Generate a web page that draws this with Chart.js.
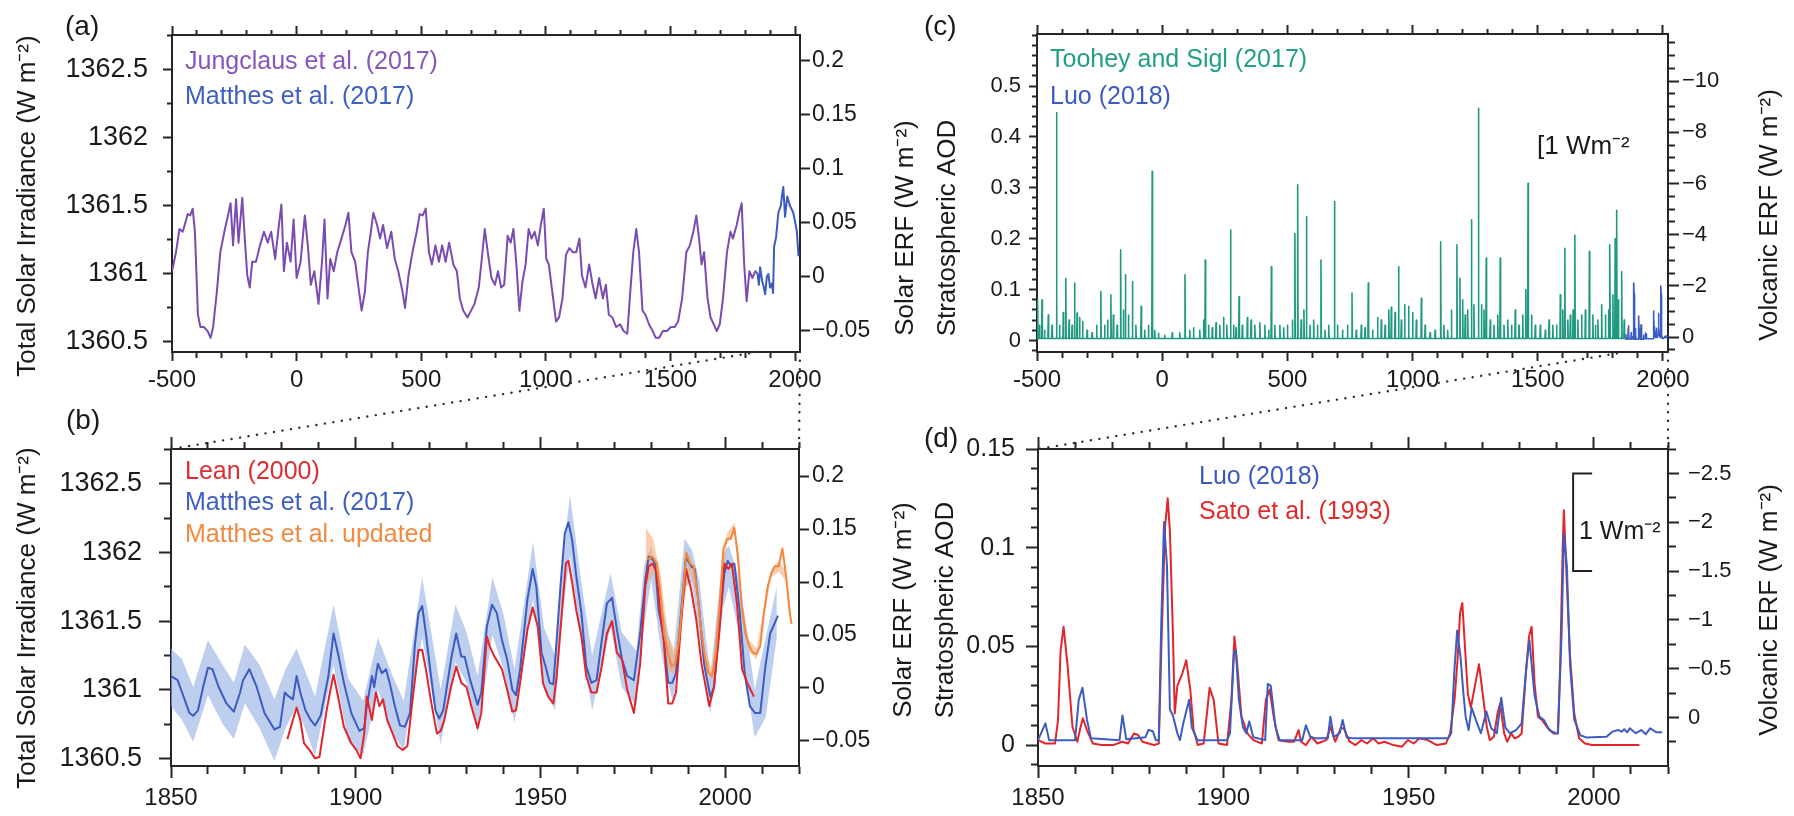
<!DOCTYPE html>
<html>
<head>
<meta charset="utf-8">
<script src="https://cdn.jsdelivr.net/npm/chart.js@4.4.1/dist/chart.umd.min.js"></script>
<style>
  html, body { margin: 0; padding: 0; background: #fff; }
  #fig { position: relative; width: 1794px; height: 816px; overflow: hidden; }
  #fig canvas { position: absolute; }
</style>
</head>
<body>
<div id="fig">
  <canvas id="pa" width="880" height="400" style="left:0;top:0"></canvas>
  <canvas id="pb" width="880" height="416" style="left:0;top:400px"></canvas>
  <canvas id="pc" width="914" height="400" style="left:880px;top:0"></canvas>
  <canvas id="pd" width="914" height="416" style="left:880px;top:400px"></canvas>
  <canvas id="links" width="1794" height="816" style="left:0;top:0;pointer-events:none"></canvas>
</div>
<script>
'use strict'
const FONT = "'Liberation Sans', Arial, Helvetica, sans-serif"
Chart.defaults.font.family = FONT

// ---- (a) TSI reconstruction, Jungclaus et al. (2017), -500..1850
const jungYears = [-500, -484, -470, -457, -449, -437, -427, -417, -408, -396,
  -386, -372, -357, -345, -335, -320, -306, -290, -273, -265,
  -255, -243, -233, -218, -208, -198, -188, -178, -163, -147,
  -131, -116, -102, -86, -71, -61, -51, -39, -24, -12,
  0, 16, 33, 45, 57, 71, 88, 102, 112, 124,
  135, 149, 163, 180, 196, 208, 220, 235, 247, 261,
  274, 286, 298, 308, 323, 335, 347, 363, 380, 394,
  408, 425, 435, 449, 465, 482, 494, 506, 518, 531,
  543, 557, 571, 584, 598, 612, 629, 643, 655, 669,
  686, 700, 714, 731, 743, 755, 767, 782, 796, 808,
  821, 833, 847, 859, 870, 882, 894, 906, 919, 931,
  943, 955, 968, 980, 992, 1002, 1012, 1026, 1041, 1053,
  1067, 1081, 1094, 1108, 1122, 1135, 1145, 1159, 1174, 1188,
  1200, 1214, 1229, 1241, 1253, 1267, 1282, 1298, 1312, 1327,
  1339, 1351, 1363, 1374, 1388, 1400, 1414, 1429, 1441, 1455,
  1470, 1486, 1502, 1517, 1531, 1547, 1564, 1578, 1592, 1604,
  1615, 1625, 1635, 1649, 1661, 1674, 1686, 1698, 1711, 1727,
  1741, 1751, 1766, 1776, 1786, 1796, 1806, 1817, 1829, 1841,
  1850]
const jungTsi = [1361.02, 1361.16, 1361.33, 1361.31, 1361.36, 1361.44, 1361.43, 1361.48, 1361.31, 1360.70,
  1360.61, 1360.61, 1360.58, 1360.53, 1360.61, 1360.87, 1361.16, 1361.31, 1361.45, 1361.52,
  1361.21, 1361.55, 1361.23, 1361.56, 1361.26, 1360.99, 1360.90, 1361.09, 1361.09, 1361.21,
  1361.31, 1361.23, 1361.31, 1361.11, 1361.36, 1361.51, 1361.02, 1361.23, 1361.09, 1361.40,
  1360.97, 1361.09, 1361.43, 1361.21, 1360.92, 1361.02, 1360.78, 1361.09, 1361.40, 1360.82,
  1361.11, 1361.02, 1361.16, 1361.26, 1361.36, 1361.45, 1361.16, 1361.09, 1360.92, 1360.73,
  1360.87, 1361.16, 1361.31, 1361.45, 1361.36, 1361.26, 1361.36, 1361.19, 1361.31, 1361.11,
  1361.02, 1360.87, 1360.75, 1360.99, 1361.16, 1361.31, 1361.44, 1361.43, 1361.48, 1361.16,
  1361.07, 1361.21, 1361.09, 1361.21, 1361.09, 1361.23, 1361.07, 1361.02, 1360.82, 1360.73,
  1360.68, 1360.73, 1360.78, 1360.90, 1361.11, 1361.33, 1361.16, 1360.97, 1360.92, 1361.02,
  1360.90, 1360.92, 1361.28, 1361.23, 1361.33, 1361.07, 1360.73, 1360.94, 1361.07, 1361.33,
  1361.26, 1361.31, 1361.21, 1361.36, 1361.48, 1361.11, 1361.07, 1360.87, 1360.65, 1360.68,
  1360.82, 1361.14, 1361.19, 1361.16, 1361.16, 1361.26, 1360.99, 1360.90, 1361.07, 1360.92,
  1360.82, 1360.97, 1360.82, 1360.92, 1360.70, 1360.68, 1360.61, 1360.63, 1360.58, 1360.56,
  1360.87, 1361.16, 1361.33, 1361.16, 1360.73, 1360.70, 1360.63, 1360.58, 1360.53, 1360.53,
  1360.58, 1360.58, 1360.61, 1360.61, 1360.65, 1360.82, 1361.16, 1361.21, 1361.31, 1361.43,
  1361.26, 1361.07, 1361.16, 1360.82, 1360.68, 1360.63, 1360.58, 1360.63, 1360.82, 1361.16,
  1361.31, 1361.26, 1361.36, 1361.45, 1361.52, 1361.07, 1360.80, 1361.02, 1360.97, 1361.02,
  1361.00]
// smoothed Matthes et al. (2017) as shown in (a)
const matSmoothYears = [1850, 1855, 1860, 1868, 1875, 1880, 1887, 1893, 1900, 1907, 1912, 1916,
  1924, 1933, 1943, 1948, 1953, 1960, 1969, 1980, 1993, 2007, 2014]
const matSmoothTsi = [1361.00, 1360.92, 1361.05, 1360.95, 1360.90, 1360.85, 1360.98, 1361.00, 1360.90, 1360.93, 1360.86, 1361.20,
  1361.27, 1361.45, 1361.50, 1361.58, 1361.64, 1361.42, 1361.57, 1361.50, 1361.45, 1361.32, 1361.13]

// ---- (b) annual TSI since 1850
const matYears = [1850, 1851.8, 1853, 1855, 1856, 1857.3, 1858.7, 1860, 1861.2, 1862.9,
  1865, 1867, 1868.7, 1869.5, 1871.2, 1873.2, 1875.3, 1878, 1879.5, 1880.8,
  1881.5, 1883, 1884, 1885, 1886.4, 1887.8, 1889, 1890.5, 1892.6, 1894,
  1895.4, 1896.8, 1898.8, 1901, 1902.3, 1903, 1904.4, 1905, 1906, 1907.1,
  1908.2, 1909.2, 1910.6, 1912, 1913.3, 1914.7, 1916, 1917, 1918, 1919,
  1920.3, 1921.6, 1922.6, 1923.7, 1925.8, 1927.2, 1928.6, 1929.5, 1931, 1932,
  1933, 1934, 1935.5, 1936.9, 1938.2, 1939.6, 1941, 1942.4, 1943.4, 1944.5,
  1946.5, 1947.9, 1948.9, 1950.3, 1951.4, 1952.5, 1953.5, 1954.2, 1955.5, 1956.6,
  1957.6, 1958.6, 1959.7, 1961.1, 1962.4, 1963.8, 1965.2, 1966.6, 1968, 1969.4,
  1970.7, 1972.1, 1973.5, 1975.3, 1977, 1978.4, 1979.3, 1980.4, 1981.1, 1982,
  1983.2, 1984.6, 1985.7, 1986.7, 1988, 1989.4, 1990.8, 1991.8, 1992.9, 1994.3,
  1996, 1997, 1998.4, 1999.8, 2000.7, 2001.6, 2002.5, 2003.9, 2005.3, 2006.7,
  2008.1, 2009.5, 2010.9, 2012.2, 2014.3]
const matTsi = [1361.10, 1361.07, 1360.98, 1360.83, 1360.81, 1360.85, 1361.02, 1361.16, 1361.15, 1361.02,
  1360.90, 1360.84, 1360.98, 1361.07, 1361.15, 1361.02, 1360.83, 1360.71, 1360.73, 1360.98,
  1360.96, 1360.93, 1361.10, 1360.98, 1360.85, 1360.78, 1360.74, 1360.81, 1361.10, 1361.41,
  1361.24, 1361.05, 1360.83, 1360.70, 1360.72, 1360.88, 1361.10, 1361.02, 1361.19, 1361.12,
  1361.15, 1361.05, 1360.88, 1360.74, 1360.73, 1360.83, 1361.32, 1361.56, 1361.61, 1361.41,
  1361.12, 1360.85, 1360.79, 1360.85, 1361.22, 1361.41, 1361.24, 1361.24, 1361.07, 1360.98,
  1360.89, 1360.98, 1361.46, 1361.62, 1361.56, 1361.36, 1361.22, 1361.00, 1360.96, 1361.15,
  1361.66, 1361.88, 1361.75, 1361.27, 1361.17, 1361.05, 1361.04, 1361.29, 1361.78, 1362.14,
  1362.22, 1362.09, 1361.83, 1361.56, 1361.17, 1361.05, 1361.07, 1361.36, 1361.63, 1361.67,
  1361.44, 1361.22, 1361.10, 1361.07, 1361.41, 1361.80, 1361.97, 1361.95, 1361.92, 1361.58,
  1361.41, 1361.05, 1361.05, 1361.12, 1361.54, 1361.97, 1361.90, 1361.88, 1361.61, 1361.19,
  1360.95, 1361.02, 1361.46, 1361.85, 1361.94, 1361.90, 1361.92, 1361.58, 1361.12, 1360.88,
  1360.83, 1360.83, 1361.17, 1361.41, 1361.54]
const matBandYears = [1850, 1853, 1856, 1860, 1864, 1867, 1870, 1874, 1878, 1881,
  1884, 1889, 1894, 1898, 1902, 1906, 1910, 1913, 1918, 1923,
  1927, 1930, 1933, 1937, 1940, 1943, 1948, 1951, 1954, 1956,
  1958, 1961, 1964, 1969, 1972, 1976, 1978, 1980, 1983, 1986,
  1989, 1991, 1993, 1996, 1999.5, 2001, 2004, 2008, 2011, 2014]
const matBandHi = [1361.30, 1361.22, 1361.02, 1361.36, 1361.18, 1361.05, 1361.33, 1361.18, 1360.93, 1361.15,
  1361.30, 1360.95, 1361.62, 1361.08, 1360.92, 1361.38, 1361.10, 1360.92, 1361.82, 1361.00,
  1361.62, 1361.42, 1361.10, 1361.82, 1361.55, 1361.15, 1362.08, 1361.45, 1361.25, 1361.95,
  1362.42, 1361.80, 1361.25, 1361.85, 1361.42, 1361.28, 1361.90, 1362.05, 1361.60, 1361.25,
  1362.10, 1362.02, 1361.80, 1361.10, 1362.00, 1362.05, 1361.80, 1361.00, 1361.38, 1361.75]
const matBandLo = [1360.88, 1360.78, 1360.62, 1360.96, 1360.75, 1360.64, 1360.90, 1360.72, 1360.48, 1360.72,
  1360.88, 1360.52, 1361.18, 1360.62, 1360.52, 1361.00, 1360.68, 1360.56, 1361.38, 1360.60,
  1361.20, 1361.05, 1360.68, 1361.40, 1361.15, 1360.76, 1361.66, 1361.00, 1360.85, 1361.55,
  1361.98, 1361.35, 1360.85, 1361.46, 1361.02, 1360.88, 1361.45, 1361.80, 1361.22, 1360.90,
  1361.75, 1361.78, 1361.40, 1360.82, 1361.60, 1361.75, 1361.38, 1360.65, 1360.80, 1361.38]
const leanYears = [1881.5, 1883, 1884, 1885, 1886, 1887.5, 1889, 1890.2, 1892, 1893.3,
  1894, 1895, 1896.8, 1898.8, 1900.2, 1901.3, 1902.3, 1903, 1904.4, 1905.5,
  1906.4, 1907.4, 1908.5, 1910, 1911.3, 1912.7, 1914, 1915.4, 1917, 1918,
  1919, 1920.3, 1922, 1923, 1924, 1925.8, 1927.2, 1928.6, 1930, 1931.3,
  1933, 1934, 1935.5, 1936.2, 1937.6, 1939.6, 1941, 1942.4, 1943.4, 1944.5,
  1946.5, 1947.9, 1949.3, 1950.7, 1952.1, 1953.5, 1954.4, 1955.5, 1956.9, 1957.6,
  1958.6, 1959.7, 1961.1, 1962.4, 1963.8, 1965.2, 1966.6, 1968, 1969.4, 1970.7,
  1972.1, 1973.5, 1975.3, 1977, 1978.4, 1979.3, 1980.4, 1981.5, 1982.4, 1983.4,
  1984.6, 1985.7, 1986.7, 1988, 1989.4, 1990.8, 1992.2, 1993.6, 1995.7, 1997,
  1998.4, 1999.8, 2000.9, 2001.8, 2003.2, 2004.6, 2006, 2007.8]
const leanTsi = [1360.64, 1360.78, 1360.87, 1360.78, 1360.61, 1360.56, 1360.50, 1360.51, 1360.83, 1361.02,
  1361.11, 1360.98, 1360.73, 1360.61, 1360.56, 1360.50, 1360.68, 1360.95, 1360.78, 1360.98,
  1360.88, 1360.93, 1360.78, 1360.68, 1360.59, 1360.56, 1360.59, 1360.93, 1361.29, 1361.29,
  1361.15, 1360.93, 1360.68, 1360.70, 1360.78, 1361.02, 1361.17, 1361.05, 1361.02, 1360.88,
  1360.72, 1360.83, 1361.39, 1361.32, 1361.24, 1361.15, 1361.00, 1360.84, 1360.85, 1361.05,
  1361.44, 1361.60, 1361.46, 1361.05, 1360.95, 1360.90, 1361.10, 1361.46, 1361.92, 1361.94,
  1361.78, 1361.58, 1361.39, 1361.10, 1360.98, 1360.98, 1361.17, 1361.41, 1361.50, 1361.27,
  1361.22, 1361.00, 1360.83, 1361.19, 1361.75, 1361.90, 1361.92, 1361.85, 1361.56, 1361.36,
  1360.90, 1360.90, 1360.98, 1361.46, 1361.88, 1361.73, 1361.51, 1361.19, 1360.88, 1361.02,
  1361.41, 1361.92, 1361.88, 1361.92, 1361.63, 1361.15, 1361.05, 1360.95]
const updYears = [1978.8, 1980.4, 1981.5, 1982.6, 1983.5, 1984.5, 1985.5, 1986.5, 1987.5, 1988.5,
  1989.5, 1990.5, 1991.5, 1992.5, 1993.5, 1994.5, 1995.5, 1996.5, 1997.5, 1998.5,
  1999.5, 2000.5, 2001.5, 2002.5, 2003.5, 2004.5, 2005.5, 2006.5, 2007.5, 2008.5,
  2009.5, 2010.5, 2011.5, 2012.5, 2013.5, 2014.5, 2015.5, 2016.5, 2017.5, 2018]
const updTsi = [1361.95, 1361.97, 1361.92, 1361.68, 1361.41, 1361.27, 1361.17, 1361.19, 1361.36, 1361.66,
  1362.00, 1361.92, 1361.90, 1361.71, 1361.44, 1361.24, 1361.12, 1361.10, 1361.27, 1361.61,
  1362.02, 1362.10, 1362.10, 1362.18, 1361.97, 1361.61, 1361.41, 1361.32, 1361.27, 1361.26,
  1361.32, 1361.56, 1361.75, 1361.85, 1361.90, 1361.90, 1362.03, 1361.83, 1361.56, 1361.48]
const updBandYears = [1978.5, 1980.5, 1982.5, 1984.5, 1986.5, 1988.5, 1990.5, 1992.5, 1994.5, 1996.5,
  1998.5, 2000.5, 2002.5, 2004.5, 2006.5, 2008.5, 2010.5, 2012.5, 2014.5, 2016.5, 2018]
const updBandHi = [1362.18, 1362.10, 1361.85, 1361.40, 1361.28, 1361.72, 1361.98, 1361.76, 1361.29, 1361.15,
  1361.66, 1362.14, 1362.22, 1361.65, 1361.36, 1361.30, 1361.60, 1361.88, 1361.94, 1361.87, 1361.51]
const updBandLo = [1361.75, 1361.85, 1361.55, 1361.15, 1361.10, 1361.60, 1361.86, 1361.66, 1361.19, 1361.05,
  1361.56, 1362.06, 1362.14, 1361.57, 1361.28, 1361.22, 1361.52, 1361.82, 1361.86, 1361.79, 1361.45]

// ---- (c) stratospheric AOD peaks, Toohey and Sigl (2017): [year, AOD]
const tooheyBackground = 0.004
const tooheyEruptions = [[-497, 0.08], [-490, 0.03], [-480, 0.08], [-470, 0.02], [-455, 0.05], [-440, 0.03],
  [-422, 0.448], [-410, 0.03], [-395, 0.055], [-385, 0.122], [-372, 0.04], [-360, 0.03], [-350, 0.113],
  [-340, 0.054], [-330, 0.045], [-318, 0.037], [-300, 0.02], [-280, 0.015], [-262, 0.03], [-245, 0.096],
  [-230, 0.03], [-218, 0.04], [-205, 0.09], [-195, 0.05], [-180, 0.03], [-166, 0.178], [-155, 0.06],
  [-147, 0.129], [-135, 0.05], [-119, 0.116], [-105, 0.03], [-84, 0.067], [-70, 0.02], [-55, 0.03],
  [-40, 0.332], [-30, 0.02], [-15, 0.014], [10, 0.01], [40, 0.015], [70, 0.015], [91, 0.129], [110, 0.02],
  [125, 0.025], [150, 0.02], [165, 0.04], [172, 0.158], [185, 0.03], [200, 0.025], [215, 0.035], [230, 0.03],
  [245, 0.045], [258, 0.03], [273, 0.217], [285, 0.03], [295, 0.025], [307, 0.086], [320, 0.03], [340, 0.045],
  [355, 0.04], [370, 0.03], [390, 0.035], [410, 0.03], [425, 0.02], [436, 0.145], [450, 0.03], [470, 0.03],
  [485, 0.025], [500, 0.03], [520, 0.04], [530, 0.21], [541, 0.306], [555, 0.04], [566, 0.06], [576, 0.243],
  [590, 0.03], [605, 0.04], [620, 0.03], [634, 0.158], [650, 0.02], [665, 0.03], [688, 0.273], [700, 0.03],
  [720, 0.02], [740, 0.03], [758, 0.093], [775, 0.02], [795, 0.03], [810, 0.025], [823, 0.113], [840, 0.02],
  [860, 0.045], [875, 0.04], [890, 0.03], [905, 0.06], [915, 0.065], [930, 0.055], [944, 0.145], [955, 0.04],
  [968, 0.07], [984, 0.067], [1000, 0.055], [1015, 0.04], [1035, 0.083], [1050, 0.03], [1070, 0.015],
  [1090, 0.02], [1112, 0.194], [1125, 0.03], [1140, 0.02], [1155, 0.06], [1177, 0.188], [1189, 0.122],
  [1200, 0.08], [1210, 0.05], [1220, 0.06], [1235, 0.237], [1245, 0.07], [1263, 0.456], [1275, 0.07],
  [1285, 0.06], [1294, 0.162], [1310, 0.04], [1325, 0.03], [1340, 0.05], [1350, 0.162], [1365, 0.03],
  [1380, 0.04], [1395, 0.03], [1410, 0.06], [1425, 0.03], [1440, 0.05], [1452, 0.10], [1461, 0.309],
  [1475, 0.05], [1490, 0.03], [1510, 0.03], [1530, 0.02], [1545, 0.04], [1560, 0.03], [1575, 0.03],
  [1590, 0.09], [1600, 0.06], [1608, 0.181], [1620, 0.04], [1630, 0.05], [1641, 0.06], [1648, 0.207],
  [1660, 0.04], [1675, 0.05], [1690, 0.06], [1706, 0.175], [1720, 0.05], [1730, 0.03], [1740, 0.04],
  [1755, 0.07], [1770, 0.05], [1783, 0.06], [1788, 0.188], [1800, 0.09], [1809, 0.20], [1815, 0.256],
  [1822, 0.08], [1835, 0.135], [1845, 0.04]]

// ---- (d) stratospheric AOD since 1850
const luoYears = [1850, 1852, 1853, 1860, 1861, 1862, 1863.2, 1864.3, 1872, 1872.8,
  1873.8, 1879, 1879.8, 1881, 1881.8, 1882.6, 1883.2, 1884, 1884.8, 1885.6,
  1886.4, 1887.6, 1888.3, 1889.2, 1890.8, 1891.5, 1893, 1901, 1901.8, 1902.9,
  1903.4, 1904.2, 1905.3, 1906.2, 1907, 1908.1, 1911.3, 1912, 1912.8, 1914.1,
  1915.2, 1921.3, 1922.3, 1923.5, 1925, 1928.2, 1928.9, 1929.8, 1931.4, 1932.2,
  1933.3, 1934.9, 1960.7, 1961.5, 1962.3, 1963.1, 1964, 1964.8, 1965.4, 1966.2,
  1967, 1968.1, 1969.5, 1971, 1972.3, 1973.8, 1975, 1976.1, 1977.3, 1979,
  1980.5, 1981.8, 1982.6, 1984, 1985.3, 1986.5, 1988, 1989.7, 1990.3, 1991.3,
  1991.9, 1992.7, 1993.6, 1994.7, 1996.3, 1997.9, 2003.4, 2005, 2006.6, 2007.5,
  2008.2, 2009, 2009.7, 2011.3, 2012.8, 2014, 2015.2, 2016.8, 2018.4]
const luoAod = [0.0025, 0.011, 0.0025, 0.0025, 0.023, 0.029, 0.013, 0.0034, 0.0025, 0.015,
  0.003, 0.004, 0.0076, 0.007, 0.0025, 0.0025, 0.057, 0.113, 0.091, 0.018,
  0.015, 0.006, 0.0025, 0.011, 0.023, 0.009, 0.0025, 0.0025, 0.006, 0.047,
  0.048, 0.023, 0.009, 0.006, 0.012, 0.004, 0.0025, 0.031, 0.030, 0.009,
  0.0025, 0.0025, 0.010, 0.004, 0.0034, 0.0034, 0.0144, 0.004, 0.006, 0.0127,
  0.004, 0.0034, 0.0034, 0.006, 0.036, 0.058, 0.045, 0.026, 0.0144, 0.0076,
  0.019, 0.013, 0.006, 0.017, 0.0085, 0.006, 0.024, 0.009, 0.006, 0.0076,
  0.011, 0.040, 0.053, 0.025, 0.0144, 0.0127, 0.0076, 0.006, 0.006, 0.057,
  0.107, 0.091, 0.040, 0.013, 0.005, 0.0039, 0.0042, 0.0068, 0.0076, 0.0068,
  0.008, 0.0065, 0.0085, 0.006, 0.0076, 0.0055, 0.0085, 0.0065, 0.0065]
const satoYears = [1850, 1852, 1854.6, 1855.4, 1856.1, 1856.9, 1858, 1859.3, 1860.6, 1861.4,
  1862.1, 1863.2, 1864.8, 1867.2, 1870.3, 1872.7, 1874.3, 1875.9, 1877, 1878.2,
  1879.8, 1881.3, 1882.6, 1883.4, 1884.3, 1885, 1885.6, 1886.4, 1886.9, 1887.6,
  1888.9, 1890, 1891.1, 1892, 1893.1, 1894.7, 1895.5, 1896.3, 1897.4, 1898.7,
  1901, 1902.2, 1903, 1903.8, 1904.9, 1906.5, 1908.1, 1910.4, 1911.5, 1912.5,
  1913.6, 1914.9, 1917.6, 1919.1, 1920.3, 1921, 1922.3, 1923.8, 1925.4, 1927.8,
  1928.9, 1930.2, 1931.7, 1932.5, 1934.1, 1935.7, 1937.2, 1938.8, 1940.4, 1941.9,
  1943.5, 1945.9, 1948.2, 1949.8, 1951.4, 1952.9, 1955.2, 1957.6, 1960.1, 1961.2,
  1962.4, 1963.2, 1963.9, 1964.5, 1965.3, 1966, 1966.8, 1967.9, 1969, 1970,
  1971.1, 1971.9, 1973, 1974, 1974.7, 1975.8, 1976.6, 1977.7, 1978.6, 1979.6,
  1980.5, 1981.8, 1982.5, 1983.2, 1984, 1984.9, 1986, 1987.6, 1989.1, 1990.3,
  1990.9, 1991.6, 1991.9, 1992.5, 1993.5, 1994.7, 1996, 1997.6, 1999.5, 2012.3]
const satoAod = [0.0025, 0.0008, 0.0008, 0.0127, 0.048, 0.060, 0.040, 0.0093, 0.0017, 0.0085,
  0.0136, 0.0076, 0.0008, 0, 0, 0.0017, 0.0008, 0.0059, 0.0051, 0.0017,
  0.0008, 0, 0.0008, 0.057, 0.111, 0.125, 0.108, 0.057, 0.016, 0.030,
  0.036, 0.043, 0.028, 0.0076, 0, 0.0008, 0.0144, 0.029, 0.023, 0.0008,
  0, 0.023, 0.055, 0.040, 0.0144, 0.0059, 0.0025, 0.0008, 0.023, 0.028,
  0.0144, 0.0025, 0.0017, 0.0017, 0.0076, 0.0017, 0, 0.0042, 0.0008, 0.0025,
  0.0093, 0.0017, 0.0085, 0.0085, 0.0017, 0, 0.0025, 0.0008, 0.0034, 0.0008,
  0.0017, 0, -0.0008, 0.0025, 0.0008, 0.0034, 0.0025, 0, 0.0008, 0.0059,
  0.023, 0.043, 0.067, 0.072, 0.047, 0.026, 0.019, 0.030, 0.041, 0.026,
  0.0093, 0.0025, 0.0042, 0.016, 0.021, 0.0059, 0.0017, 0.0059, 0.0034, 0.0042,
  0.0059, 0.040, 0.055, 0.060, 0.031, 0.0144, 0.0127, 0.0085, 0.0059, 0.0059,
  0.040, 0.101, 0.119, 0.091, 0.047, 0.016, 0.0034, 0.0008, 0, 0]

// ---- tick labels
const longYearTicks = [-500, 0, 500, 1000, 1500, 2000]
const shortYearTicks = [1850, 1900, 1950, 2000]
const tsiTicks = [1360.5, 1361, 1361.5, 1362, 1362.5]
const tsiErfTicks = [-0.05, 0, 0.05, 0.1, 0.15, 0.2]
const aodLongTicks = [0, 0.1, 0.2, 0.3, 0.4, 0.5]
const volcLongTicks = [0, -2, -4, -6, -8, -10]
const aodShortTicks = [0, 0.05, 0.1, 0.15]
const volcShortTicks = [0, -0.5, -1, -1.5, -2, -2.5]

const C = {
  purple: '#7a4bb0', blue: '#3b5cc0', red: '#e3242b', orange: '#f5873a', teal: '#1f9a80',
  blueBand: 'rgba(150,176,228,0.62)', orangeBand: 'rgba(246,166,112,0.55)', ink: '#1a1a1a'
}

const pts = (xs, ys) => xs.map((x, i) => ({x, y: ys[i]}))

function fmtNum(v, minus) {
  if (Math.abs(v) < 1e-9) return '0'
  const s = String(+Math.abs(v).toFixed(4))
  return v < 0 ? minus + s : s
}

// one axis: labelled majors plus shorter unlabelled minors
function axis(o) {
  const horiz = o.pos === 'top' || o.pos === 'bottom'
  const isMajor = v => o.major.some(m => Math.abs(m - v) < 1e-7)
  const vals = o.major.filter(m => m >= o.min - 1e-9 && m <= o.max + 1e-9)
  if (o.minor) {
    for (let k = Math.ceil(o.min / o.minor - 1e-6); k * o.minor <= o.max + 1e-9; k++) {
      const v = +(k * o.minor).toFixed(6)
      if (!vals.some(w => Math.abs(w - v) < 1e-7)) vals.push(v)
    }
  }
  vals.sort((p, q) => p - q)
  const tm = o.tm || o.tl
  const minorDash = (o.pos === 'top' || o.pos === 'left') ? [0, o.tl - tm, 1000] : [tm, 1000]
  return {
    type: 'linear', position: o.pos, min: o.min, max: o.max, reverse: !!o.reverse, bounds: 'data',
    afterBuildTicks: s => { s.ticks = vals.map(v => ({value: v})) },
    afterFit: s => { if (horiz) s.height = o.size; else s.width = o.size },
    ticks: {
      display: !!o.font, autoSkip: false, maxRotation: 0, minRotation: 0, padding: o.pad || 0,
      color: C.ink, font: {family: FONT, size: o.font || 12},
      callback: v => isMajor(v) ? fmtNum(v, o.minus || '-') : ''
    },
    grid: {
      display: true, drawOnChartArea: false, drawTicks: true, tickLength: o.tl, tickWidth: 2, tickColor: '#262626',
      tickBorderDash: c => (c.tick && isMajor(c.tick.value)) ? [] : minorDash
    },
    border: {display: true, color: '#262626', width: 2},
    title: {display: false}
  }
}

function notes(items, extra) {
  return {
    id: 'notes',
    afterDraw(chart) {
      const ctx = chart.ctx
      items.forEach(n => {
        ctx.save()
        ctx.font = `${n.s || 25}px ${FONT}`
        ctx.fillStyle = n.c || C.ink
        ctx.textBaseline = 'middle'
        ctx.textAlign = n.a || 'left'
        ctx.translate(n.x, n.y)
        if (n.r) ctx.rotate(-Math.PI / 2)
        ctx.fillText(n.t, 0, 0)
        ctx.restore()
      })
      if (extra) { ctx.save(); extra(chart, ctx); ctx.restore() }
    }
  }
}

function line(data, color, width, order) {
  return {data, borderColor: color, backgroundColor: color, borderWidth: width, pointRadius: 0, fill: false, order}
}
function band(hi, lo, color, order) {
  return [
    {data: hi, borderColor: 'rgba(0,0,0,0)', borderWidth: 0, pointRadius: 0, fill: '+1', backgroundColor: color, order},
    {data: lo, borderColor: 'rgba(0,0,0,0)', borderWidth: 0, pointRadius: 0, fill: false, order: order + 1}
  ]
}

function panel(id, datasets, scales, plugin) {
  return new Chart(document.getElementById(id), {
    type: 'line',
    data: {datasets},
    options: {
      responsive: false, animation: false, events: [],
      layout: {padding: 0},
      elements: {line: {tension: 0, borderJoinStyle: 'round'}, point: {radius: 0}},
      plugins: {legend: {display: false}, tooltip: {enabled: false}},
      scales
    },
    plugins: [plugin]
  })
}

const WM2 = 'W m\u207B\u00B2'

// (a)
const chartA = panel('pa', [
  line(pts(jungYears, jungTsi), C.purple, 2, 1),
  line(pts(matSmoothYears, matSmoothTsi), C.blue, 2, 0)
], {
  x: axis({pos: 'bottom', min: -500, max: 2020, major: longYearTicks, minor: 100, tl: 9, tm: 5, size: 48, font: 24, pad: 5}),
  x2: axis({pos: 'top', min: -500, max: 2020, major: longYearTicks, minor: 100, tl: 9, tm: 5, size: 35}),
  y: axis({pos: 'left', min: 1360.426, max: 1362.757, major: tsiTicks, minor: 0.25, tl: 9, tm: 5, size: 172, font: 27, pad: 15}),
  y2: axis({pos: 'right', min: -0.0699, max: 0.2236, major: tsiErfTicks, tl: 10, size: 80, font: 23, pad: 2, minus: '\u2212'})
}, notes([
  {t: '(a)', x: 65, y: 27, s: 28},
  {t: 'Total Solar Irradiance (' + WM2 + ')', x: 28, y: 206, s: 26, r: 1, a: 'center'},
  {t: 'Jungclaus et al. (2017)', x: 185, y: 62, c: '#8655bd'},
  {t: 'Matthes et al. (2017)', x: 185, y: 97, c: '#3d5fc2'}
]))

// (b)
const chartB = panel('pb', [
  line(pts(updYears, updTsi), C.orange, 2, 0),
  line(pts(leanYears, leanTsi), C.red, 2, 1),
  line(pts(matYears, matTsi), C.blue, 2, 2),
  ...band(pts(updBandYears, updBandHi), pts(updBandYears, updBandLo), C.orangeBand, 4),
  ...band(pts(matBandYears, matBandHi), pts(matBandYears, matBandLo), C.blueBand, 7)
], {
  x: axis({pos: 'bottom', min: 1850, max: 2020, major: shortYearTicks, minor: 10, tl: 12, tm: 7, size: 50, font: 24, pad: 6}),
  x2: axis({pos: 'top', min: 1850, max: 2020, major: shortYearTicks, minor: 10, tl: 12, tm: 7, size: 49}),
  y: axis({pos: 'left', min: 1360.444, max: 1362.755, major: tsiTicks, minor: 0.25, tl: 12, tm: 7, size: 171, font: 27, pad: 17}),
  y2: axis({pos: 'right', min: -0.0736, max: 0.2255, major: tsiErfTicks, tl: 10, size: 81, font: 23, pad: 3, minus: '\u2212'})
}, notes([
  {t: '(b)', x: 66, y: 21, s: 28},
  {t: 'Total Solar Irradiance (' + WM2 + ')', x: 28, y: 218, s: 26, r: 1, a: 'center'},
  {t: 'Lean (2000)', x: 185, y: 72, c: '#e02c30'},
  {t: 'Matthes et al. (2017)', x: 185, y: 103, c: '#3d5fc2'},
  {t: 'Matthes et al. updated', x: 185, y: 135, c: '#f28a42'}
]))

// (c)
const tooheyPts = [{x: -500, y: tooheyBackground}]
tooheyEruptions.forEach(([yr, p]) => {
  tooheyPts.push({x: yr - 1.5, y: tooheyBackground}, {x: yr, y: p}, {x: yr + 1.5, y: tooheyBackground})
})
tooheyPts.push({x: 1850, y: tooheyBackground})

const chartC = panel('pc', [
  line(tooheyPts, C.teal, 1.6, 1),
  line(pts(luoYears, luoAod), C.blue, 1.6, 0)
], {
  x: axis({pos: 'bottom', min: -500, max: 2020, major: longYearTicks, minor: 100, tl: 9, tm: 5, size: 48, font: 24, pad: 5}),
  x2: axis({pos: 'top', min: -500, max: 2020, major: longYearTicks, minor: 100, tl: 9, tm: 5, size: 34}),
  y: axis({pos: 'left', min: -0.0226, max: 0.6022, major: aodLongTicks, minor: 0.02, tl: 8, tm: 5, size: 157, font: 22, pad: 8}),
  y2: axis({pos: 'right', min: -11.84, max: 0.586, reverse: true, major: volcLongTicks, minor: 0.5, tl: 11, tm: 6, size: 126, font: 22, pad: 3, minus: '\u2212'})
}, notes([
  {t: '(c)', x: 44, y: 27, s: 28},
  {t: 'Solar ERF (' + WM2 + ')', x: 26, y: 228, s: 26, r: 1, a: 'center'},
  {t: 'Stratospheric AOD', x: 68, y: 228, s: 26, r: 1, a: 'center'},
  {t: 'Volcanic ERF (' + WM2 + ')', x: 890, y: 215, s: 26, r: 1, a: 'center'},
  {t: 'Toohey and Sigl (2017)', x: 170, y: 60, c: '#23a086'},
  {t: 'Luo (2018)', x: 170, y: 97, c: '#3d5ac0'},
  {t: '[1 Wm\u207B\u00B2', x: 657, y: 147, s: 26}
]))

// (d)
const chartD = panel('pd', [
  line(pts(luoYears, luoAod), C.blue, 2, 0),
  line(pts(satoYears, satoAod), C.red, 2, 1)
], {
  x: axis({pos: 'bottom', min: 1850, max: 2020, major: shortYearTicks, minor: 10, tl: 12, tm: 7, size: 50, font: 24, pad: 6}),
  x2: axis({pos: 'top', min: 1850, max: 2020, major: shortYearTicks, minor: 10, tl: 12, tm: 7, size: 49}),
  y: axis({pos: 'left', min: -0.0106, max: 0.15, major: aodShortTicks, minor: 0.01, tl: 12, tm: 7, size: 158, font: 25, pad: 11}),
  y2: axis({pos: 'right', min: -2.751, max: 0.497, reverse: true, major: volcShortTicks, minor: 0.25, tl: 11, tm: 7, size: 126, font: 22, pad: 9, minus: '\u2212'})
}, notes([
  {t: '(d)', x: 44, y: 39, s: 28},
  {t: 'Solar ERF (' + WM2 + ')', x: 24, y: 210, s: 26, r: 1, a: 'center'},
  {t: 'Stratospheric AOD', x: 66, y: 210, s: 26, r: 1, a: 'center'},
  {t: 'Volcanic ERF (' + WM2 + ')', x: 890, y: 210, s: 26, r: 1, a: 'center'},
  {t: 'Luo (2018)', x: 319, y: 77, c: '#3d5ac0'},
  {t: 'Sato et al. (1993)', x: 319, y: 112, c: '#e02a2a'},
  {t: '1 Wm\u207B\u00B2', x: 699, y: 132, s: 25}
], (chart, ctx) => {
  // 1 W m-2 scale bar on the volcanic ERF axis
  const x = chart.scales.x.getPixelForValue(1994.4)
  const y1 = chart.scales.y2.getPixelForValue(-2.5)
  const y2 = chart.scales.y2.getPixelForValue(-1.5)
  ctx.strokeStyle = '#222'
  ctx.lineWidth = 2
  ctx.beginPath()
  ctx.moveTo(x + 19, y1); ctx.lineTo(x, y1); ctx.lineTo(x, y2); ctx.lineTo(x + 19, y2)
  ctx.stroke()
}))

// dotted zoom connectors between the long and the short panels
const lk = document.getElementById('links').getContext('2d')
lk.strokeStyle = '#303030'
lk.lineWidth = 2.4
lk.lineCap = 'round'
lk.setLineDash([0.1, 8.5])
function connect(top, tOff, bottom, bOff) {
  const ca = bottom.chartArea
  const yTop = tOff[1] + top.chartArea.bottom
  const yBot = bOff[1] + ca.top
  lk.beginPath()
  lk.moveTo(tOff[0] + top.scales.x.getPixelForValue(bottom.scales.x.min), yTop)
  lk.lineTo(bOff[0] + ca.left, yBot)
  lk.moveTo(tOff[0] + top.scales.x.getPixelForValue(bottom.scales.x.max), yTop)
  lk.lineTo(bOff[0] + ca.right, yBot)
  lk.stroke()
}
connect(chartA, [0, 0], chartB, [0, 400])
connect(chartC, [880, 0], chartD, [880, 400])
</script>
</body>
</html>
